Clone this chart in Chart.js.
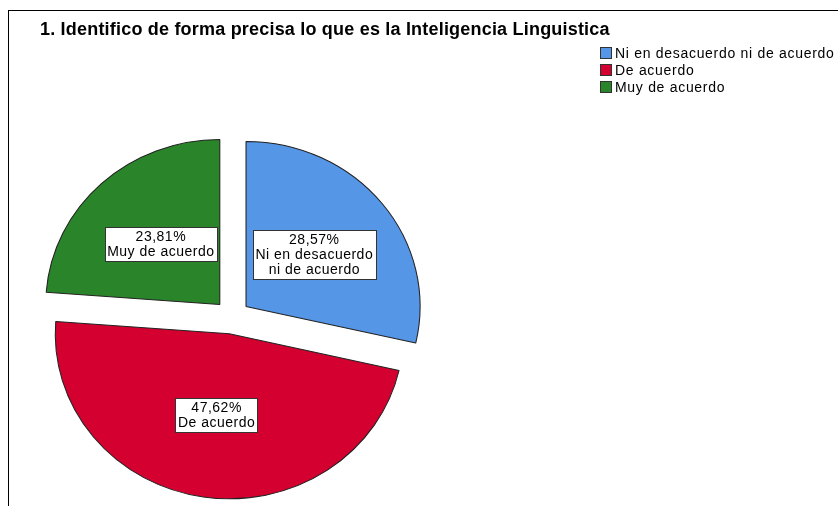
<!DOCTYPE html>
<html>
<head>
<meta charset="utf-8">
<script src="https://cdn.jsdelivr.net/npm/chart.js@4/dist/chart.umd.min.js"></script>
<style>
  body { margin: 0; background: #fff; }
  #wrap { position: relative; width: 838px; height: 506px; overflow: hidden; }
  #frame { position: absolute; left: 8px; top: 10px; right: -2px; bottom: -2px; border-top: 1px solid #000; border-left: 1px solid #000; }
  #title { position: absolute; left: 40px; top: 19px; line-height: 20px; font: bold 18px "Liberation Sans", Arial, sans-serif; letter-spacing: 0.2px; color: #000; white-space: nowrap; }
  #legend { position: absolute; left: 600px; top: 45px; font: 14px "Liberation Sans", Arial, sans-serif; letter-spacing: 0.7px; color: #000; }
  #legend div { height: 17px; line-height: 17px; white-space: nowrap; }
  #legend span { display: inline-block; width: 10px; height: 10px; border: 1px solid #333; vertical-align: -1px; margin-right: 3px; }
  #c { position: absolute; left: 0; top: 0; }
</style>
</head>
<body>
<div id="wrap">
  <div id="frame"></div>
  <canvas id="c" width="838" height="506"></canvas>
  <div id="title">1. Identifico de forma precisa lo que es la Inteligencia Linguistica</div>
  <div id="legend"></div>
</div>
<script>
const labels = ["Ni en desacuerdo ni de acuerdo", "De acuerdo", "Muy de acuerdo"];
const sliceLabels = [["28,57%", "Ni en desacuerdo", "ni de acuerdo"], ["47,62%", "De acuerdo"], ["23,81%", "Muy de acuerdo"]];
const values = [28.57, 47.62, 23.81];
const colors = ["#5596e6", "#d30030", "#2a852a"];

const EXPLODE = 17;
const SX = 1.055; // SPSS pie is slightly wider than tall

const legend = document.getElementById("legend");
labels.forEach((l, i) => {
    const row = document.createElement("div");
    row.innerHTML = '<span style="background:' + colors[i] + '"></span>' + l;
    legend.appendChild(row);
});

function sliceCenter(arc) {
    const mid = (arc.startAngle + arc.endAngle) / 2;
    return {
        x: arc.x + Math.cos(mid) * EXPLODE * SX,
        y: arc.y + Math.sin(mid) * EXPLODE,
        mid: mid
    };
}

const explodePlugin = {
    id: 'explode',
    beforeDatasetsDraw(chart) {
        const ctx = chart.ctx;
        chart.getDatasetMeta(0).data.forEach(arc => {
            const c = sliceCenter(arc);
            ctx.save();
            ctx.translate(c.x, c.y);
            ctx.scale(SX, 1);
            ctx.translate(-arc.x, -arc.y);
            arc.draw(ctx);
            ctx.restore();
        });
        return false;
    },
    afterDraw(chart) {
        const ctx = chart.ctx;
        ctx.save();
        ctx.font = '14px "Liberation Sans", Arial, sans-serif';
        ctx.letterSpacing = '0.5px';
        ctx.textAlign = 'center';
        ctx.textBaseline = 'middle';
        chart.getDatasetMeta(0).data.forEach((arc, i) => {
            const c = sliceCenter(arc);
            const r = arc.outerRadius * 0.5;
            const x = c.x + Math.cos(c.mid) * r * SX;
            const y = c.y + Math.sin(c.mid) * r;
            const lines = sliceLabels[i];
            const lh = 15;
            let w = 0;
            lines.forEach(t => { w = Math.max(w, ctx.measureText(t).width); });
            const bw = Math.round(w + 5), bh = lines.length * lh + 4;
            const bx = Math.round(x - bw / 2) + 0.5, by = Math.round(y - bh / 2) + 0.5;
            ctx.fillStyle = '#fff';
            ctx.fillRect(bx, by, bw, bh);
            ctx.strokeStyle = '#333';
            ctx.lineWidth = 1;
            ctx.strokeRect(bx, by, bw, bh);
            ctx.fillStyle = '#000';
            lines.forEach((t, k) => {
                ctx.fillText(t, x + 0.25, by + 2 + lh * k + lh / 2 + 0.5);
            });
        });
        ctx.restore();
    }
};

new Chart(document.getElementById("c"), {
    type: 'pie',
    data: {
        labels: labels,
        datasets: [{
            data: values,
            backgroundColor: colors,
            borderColor: '#222',
            borderWidth: 1
        }]
    },
    options: {
        responsive: false,
        animation: false,
        events: [],
        radius: 165,
        layout: { padding: { left: 0, right: 374, top: 128, bottom: 0 } },
        plugins: {
            legend: { display: false },
            tooltip: { enabled: false },
            title: { display: false }
        }
    },
    plugins: [explodePlugin]
});
</script>
</body>
</html>
